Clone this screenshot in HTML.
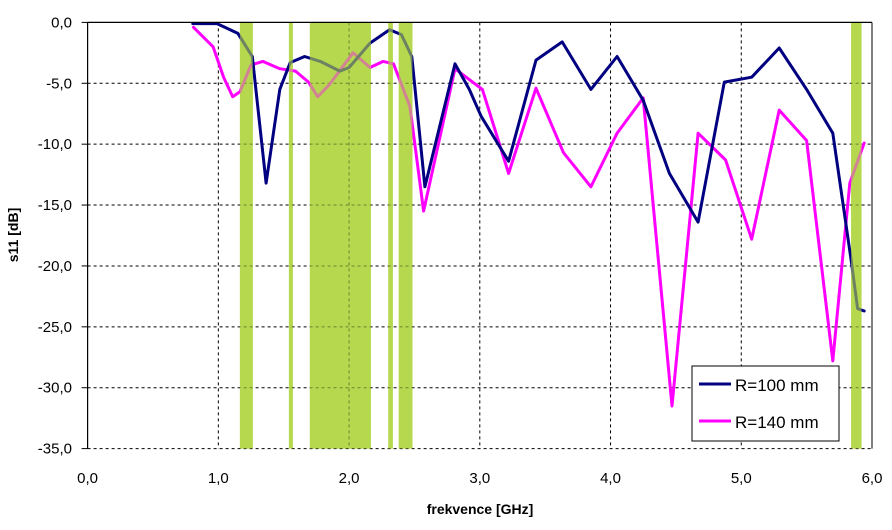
<!DOCTYPE html>
<html><head><meta charset="utf-8"><style>
body{margin:0;background:#fff;}
svg{display:block;font-family:"Liberation Sans",Arial,sans-serif;}
</style></head><body>
<svg id="chart" width="892" height="530">
<g id="bands"></g>
<g id="grid"></g>
<g id="series"></g>
<g id="bandsTop"></g>
<g id="axes"></g>
<text x="18" y="235" transform="rotate(-90 18 235)" text-anchor="middle" font-size="14" font-weight="bold">s11 [dB]</text>
<text x="480" y="514" text-anchor="middle" font-size="14" font-weight="bold">frekvence [GHz]</text>
<g>
<rect x="692" y="366" width="147" height="75" fill="#fff" stroke="#000" stroke-width="1"/>
<line x1="699" y1="384" x2="731" y2="384" stroke="#000080" stroke-width="3"/>
<text x="735" y="391" font-size="17">R=100 mm</text>
<line x1="699" y1="421" x2="731" y2="421" stroke="#ff00ff" stroke-width="3"/>
<text x="735" y="428" font-size="17">R=140 mm</text>
</g>
</svg>
<script>
const xTicks=[0,1,2,3,4,5,6];
const xTickLabels=["0,0","1,0","2,0","3,0","4,0","5,0","6,0"];
const yTicks=[0,-5,-10,-15,-20,-25,-30,-35];
const yTickLabels=["0,0","-5,0","-10,0","-15,0","-20,0","-25,0","-30,0","-35,0"];
const bandStart=[1.165,1.54,1.70,2.30,2.38,5.84];
const bandEnd=[1.264,1.57,2.167,2.335,2.485,5.92];
const r100F=[0.805,0.99,1.15,1.26,1.365,1.47,1.55,1.66,1.78,1.93,2.0,2.16,2.31,2.40,2.48,2.58,2.81,2.92,3.01,3.22,3.43,3.63,3.85,4.05,4.25,4.45,4.67,4.87,5.08,5.29,5.50,5.70,5.84,5.89,5.94];
const r100V=[-0.1,-0.1,-0.9,-2.8,-13.2,-5.5,-3.3,-2.8,-3.2,-4.0,-3.7,-1.7,-0.6,-1.0,-2.8,-13.5,-3.4,-5.5,-7.7,-11.4,-3.1,-1.6,-5.5,-2.8,-6.4,-12.4,-16.4,-4.9,-4.5,-2.1,-5.5,-9.1,-19.5,-23.5,-23.7];
const r140F=[0.81,0.96,1.04,1.11,1.165,1.25,1.34,1.47,1.59,1.69,1.76,1.85,2.03,2.16,2.26,2.34,2.465,2.57,2.81,2.92,3.02,3.22,3.43,3.64,3.85,4.05,4.25,4.47,4.67,4.88,5.08,5.29,5.50,5.70,5.83,5.94];
const r140V=[-0.4,-2.0,-4.5,-6.1,-5.7,-3.5,-3.2,-3.8,-4.0,-4.9,-6.1,-5.1,-2.5,-3.7,-3.2,-3.4,-6.9,-15.5,-3.8,-4.7,-5.5,-12.4,-5.4,-10.7,-13.5,-9.1,-6.2,-31.5,-9.1,-11.3,-17.8,-7.2,-9.7,-27.8,-13.2,-9.9];

const X0=87.6,X1=872,Y0=22.4,Y1=448.6;
const sx=v=>X0+(v-0)/(6-0)*(X1-X0);
const sy=v=>Y0+(0-v)/(35)*(Y1-Y0);
const NS="http://www.w3.org/2000/svg";
function mk(tag,attrs,parent){const e=document.createElementNS(NS,tag);for(const k in attrs)e.setAttribute(k,attrs[k]);parent.appendChild(e);return e;}
const grid=document.getElementById('grid'),axes=document.getElementById('axes'),series=document.getElementById('series');
const bands=document.getElementById('bands'),bandsTop=document.getElementById('bandsTop');
bandStart.forEach((s,i)=>{
  const r=mk('rect',{x:sx(s),y:Y0,width:sx(bandEnd[i])-sx(s),height:Y1-Y0,fill:'#b5d84e'},bands);
  
  
  const r2=mk('rect',{x:sx(s),y:Y0,width:sx(bandEnd[i])-sx(s),height:Y1-Y0,fill:'#b5d84e','fill-opacity':0.6},bandsTop);
  
  
});
xTicks.forEach((t,i)=>{
  if(i>0&&i<xTicks.length-1){const l=mk('line',{x1:sx(t),x2:sx(t),y1:Y0,y2:Y1,stroke:'#000','stroke-dasharray':'3,3','stroke-width':1},grid);
  
  }
  const tx=mk('text',{x:sx(t),y:483,'text-anchor':'middle','font-size':15},axes);tx.textContent=xTickLabels[i];
  
  
});
yTicks.forEach((t,i)=>{
  if(i>0){const l=mk('line',{x1:X0,x2:X1,y1:sy(t),y2:sy(t),stroke:'#000','stroke-dasharray':'3,3','stroke-width':1},grid);
  
  }
  const tk=mk('line',{x1:X0-6,x2:X0,y1:sy(t),y2:sy(t),stroke:'#000'},axes);
  
  
  const tx=mk('text',{x:72,y:sy(t)+5,'text-anchor':'end','font-size':15},axes);tx.textContent=yTickLabels[i];
  
  
});
const la=mk('line',{x1:X0,x2:X0,y1:Y0,y2:Y1,stroke:'#000','stroke-width':1.2},axes);


const tb=mk('line',{x1:X0,x2:X1,y1:Y0,y2:Y0,stroke:'#000','stroke-width':1.2},axes);


const rb=mk('line',{x1:X1,x2:X1,y1:Y0,y2:Y1,stroke:'#000','stroke-width':1},axes);


function drawLine(F,V,color,name){
  const pts=F.map((f,i)=>sx(f).toFixed(1)+','+sy(V[i]).toFixed(1)).join(' ');
  const p=mk('polyline',{points:pts,fill:'none',stroke:color,'stroke-width':3,'stroke-linejoin':'round','stroke-linecap':'round'},series);
  
  
}
drawLine(r140F,r140V,'#ff00ff','series-r140');
drawLine(r100F,r100V,'#000080','series-r100');
</script>
</body></html>
